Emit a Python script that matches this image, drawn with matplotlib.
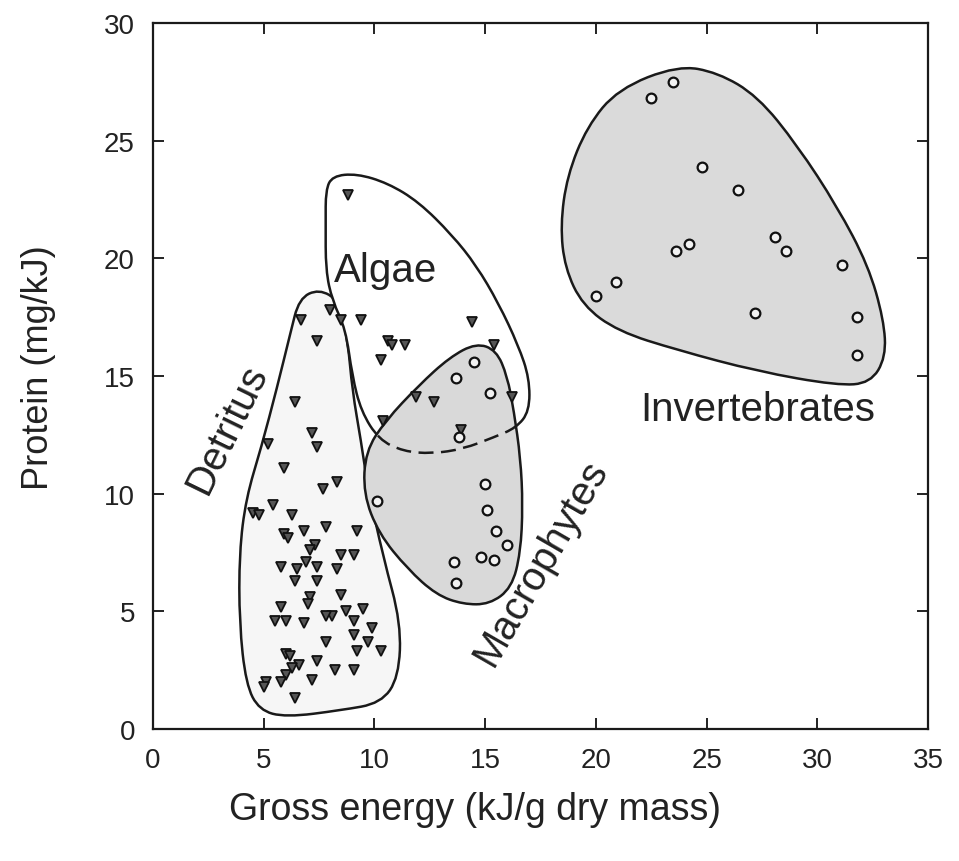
import matplotlib.pyplot as plt
from matplotlib.path import Path
from matplotlib.patches import PathPatch
import numpy as np

plt.rcParams['font.family'] = ['Liberation Sans', 'DejaVu Sans']

## DATA

# triangles: detritus samples
det_x = [8.0, 6.7, 7.4, 6.4, 7.2, 7.4, 5.2, 5.9, 8.3, 7.7, 5.4, 4.5, 4.8, 6.3,
         7.8, 9.2, 5.9, 6.1, 6.8, 7.3, 7.1, 8.5, 9.1, 5.8, 6.9, 7.4, 6.5, 6.4,
         8.3, 7.4, 7.1, 7.0, 8.5, 5.8, 8.7, 9.5, 8.1, 7.8, 5.5, 6.0, 6.8, 9.1,
         9.9, 9.1, 9.7, 7.8, 9.2, 10.3, 6.0, 6.2, 7.4, 6.6, 6.3, 6.0, 5.8, 5.1,
         5.0, 8.2, 9.1, 7.2, 6.4]
det_y = [17.8, 17.4, 16.5, 13.9, 12.6, 12.0, 12.1, 11.1, 10.5, 10.2, 9.5, 9.2, 9.1, 9.1,
         8.6, 8.4, 8.3, 8.1, 8.4, 7.8, 7.6, 7.4, 7.4, 6.9, 7.1, 6.9, 6.8, 6.3,
         6.8, 6.3, 5.6, 5.3, 5.7, 5.2, 5.0, 5.1, 4.8, 4.8, 4.6, 4.6, 4.5, 4.6,
         4.3, 4.0, 3.7, 3.7, 3.3, 3.3, 3.2, 3.1, 2.9, 2.7, 2.6, 2.3, 2.0, 2.0,
         1.8, 2.5, 2.5, 2.1, 1.3]

# triangles: algae samples
alg_x = [8.8, 8.5, 9.4, 10.6, 10.8, 11.4, 10.3, 14.4, 15.4, 16.2, 11.9, 12.7, 10.4, 13.9]
alg_y = [22.7, 17.4, 17.4, 16.5, 16.3, 16.3, 15.7, 17.3, 16.3, 14.1, 14.1, 13.9, 13.1, 12.7]

# circles: macrophytes
mac_x = [14.5, 13.7, 15.2, 13.8, 15.0, 15.1, 10.1, 15.5, 16.0, 13.6, 14.8, 15.4, 13.7]
mac_y = [15.6, 14.9, 14.3, 12.4, 10.4, 9.3, 9.7, 8.4, 7.8, 7.1, 7.3, 7.2, 6.2]

# circles: invertebrates
inv_x = [23.5, 22.5, 24.8, 26.4, 28.1, 28.6, 24.2, 23.6, 20.9, 20.0, 31.1, 27.2, 31.8, 31.8]
inv_y = [27.5, 26.8, 23.9, 22.9, 20.9, 20.3, 20.6, 20.3, 19.0, 18.4, 19.7, 17.7, 17.5, 15.9]

# hand-drawn group envelopes
det_env_x = [7.5, 8.4, 8.8, 9.0, 9.4, 9.7, 10.4, 11.2, 11.1, 10.3, 8.5, 6.0, 4.8,
             4.2, 3.9, 3.9, 4.2, 4.9, 5.6, 6.2, 6.6]
det_env_y = [18.7, 18.2, 16.5, 14.4, 12.2, 10.3, 7.3, 4.5, 2.2, 1.1, 0.8, 0.5, 0.8,
             1.9, 4.5, 7.5, 9.8, 12.0, 14.5, 16.8, 18.3]

alg_env_x = [7.8, 8.1, 9.2, 10.6, 12.0, 13.5, 14.6, 15.6, 16.5, 17.0, 17.0, 16.4,
             15.4, 14.0, 12.6, 11.3, 10.2, 9.4, 9.0, 8.7, 8.1, 7.8, 7.8]
alg_env_y = [22.9, 23.5, 23.6, 23.2, 22.4, 21.0, 19.7, 18.1, 16.3, 14.9, 13.5, 12.8,
             12.4, 11.9, 11.7, 11.8, 12.3, 13.5, 15.0, 17.0, 18.2, 19.5, 21.5]

mac_env_x = [14.6, 15.5, 16.0, 16.3, 16.6, 16.7, 16.6, 16.2, 15.2, 14.0, 12.8, 11.5,
             10.2, 9.5, 9.6, 10.5, 12.0, 13.4]
mac_env_y = [16.4, 16.1, 15.0, 13.5, 11.5, 9.5, 7.5, 6.0, 5.3, 5.3, 5.7, 6.8,
             8.3, 10.0, 11.8, 13.1, 14.6, 15.8]

inv_env_x = [23.7, 25.5, 27.3, 29.1, 30.9, 32.3, 33.0, 33.1, 32.4, 30.9, 27.3, 23.7,
             21.0, 19.4, 18.6, 18.4, 18.7, 19.6, 21.0]
inv_env_y = [28.2, 27.9, 26.9, 24.8, 22.2, 19.7, 17.4, 15.8, 14.7, 14.6, 15.2, 16.1,
             16.9, 18.0, 19.6, 21.4, 23.5, 25.6, 27.2]

xticks = [0, 5, 10, 15, 20, 25, 30, 35]
yticks = [0, 5, 10, 15, 20, 25, 30]


def smooth_outline(xs, ys):
    # closed quadratic b-spline through edge midpoints
    pts = np.column_stack([xs, ys])
    mids = (pts + np.roll(pts, -1, axis=0)) / 2
    verts = [mids[-1]]
    codes = [Path.MOVETO]
    for i in range(len(pts)):
        verts += [pts[i], mids[i]]
        codes += [Path.CURVE3, Path.CURVE3]
    verts.append(mids[-1])
    codes.append(Path.CLOSEPOLY)
    return Path(verts, codes)


fig = plt.figure(figsize=(9.59, 8.62), dpi=100)
ax = fig.add_axes([0.1595, 0.1531, 0.8082, 0.8190])

lw = 1.8
det_patch = PathPatch(smooth_outline(det_env_x, det_env_y), fc='#f6f6f6', ec='#1a1a1a', lw=lw, zorder=1)
alg_patch = PathPatch(smooth_outline(alg_env_x, alg_env_y), fc='white', ec='#1a1a1a', lw=lw, zorder=1.5)
mac_patch = PathPatch(smooth_outline(mac_env_x, mac_env_y), fc='#d9d9d9', ec='none', lw=0, zorder=2)
mac_line = PathPatch(smooth_outline(mac_env_x, mac_env_y), fc='none', ec='#1a1a1a', lw=lw, zorder=2.6)
inv_patch = PathPatch(smooth_outline(inv_env_x, inv_env_y), fc='#dadada', ec='#1a1a1a', lw=lw, zorder=2)
ax.add_patch(det_patch)
ax.add_patch(alg_patch)
ax.add_patch(mac_patch)
ax.add_patch(mac_line)
ax.add_patch(inv_patch)

# algae boundary continues dashed under the macrophyte envelope
alg_dash = PathPatch(smooth_outline(alg_env_x, alg_env_y), fc='none', ec='#1a1a1a', lw=lw,
                     linestyle=(0, (6, 3)), zorder=2.5)
ax.add_patch(alg_dash)
alg_dash.set_clip_path(mac_patch)

tri = dict(marker='v', ms=7.5, mfc='#555555', mec='#111111', mew=1.3, ls='none', zorder=4)
circ = dict(marker='o', ms=7, mfc='#f2f2f2', mec='#111111', mew=1.6, ls='none', zorder=4)
ax.plot(det_x, det_y, **tri)
ax.plot(alg_x, alg_y, **tri)
ax.plot(mac_x, mac_y, **circ)
ax.plot(inv_x, inv_y, **circ)

ax.text(10.5, 19.5, 'Algae', fontsize=29, ha='center', va='center', color='#222222', zorder=5)
ax.text(3.35, 12.8, 'Detritus', fontsize=29, rotation=64, ha='center', va='center',
        color='#222222', zorder=5)
ax.text(17.5, 7.1, 'Macrophytes', fontsize=29, rotation=60, ha='center', va='center',
        color='#222222', zorder=5)
ax.text(27.3, 13.6, 'Invertebrates', fontsize=29, ha='center', va='center', color='#222222', zorder=5)

ax.set_xlim(0, 35)
ax.set_ylim(0, 30)
ax.set_xticks(xticks)
ax.set_yticks(yticks)
ax.tick_params(direction='in', top=True, right=True, length=8, width=1.4,
               labelsize=20, colors='#222222')
ax.tick_params(axis='x', pad=13)
ax.tick_params(axis='y', pad=13)
for sp in ax.spines.values():
    sp.set_linewidth(1.6)
    sp.set_color('#1a1a1a')

ax.set_xlabel('Gross energy (kJ/g dry mass)', fontsize=27, color='#222222')
ax.set_ylabel('Protein (mg/kJ)', fontsize=26, color='#222222')
ax.xaxis.set_label_coords(0.415, -0.088)
ax.yaxis.set_label_coords(-0.125, 0.513)

fig.savefig('out.png', dpi=100)
